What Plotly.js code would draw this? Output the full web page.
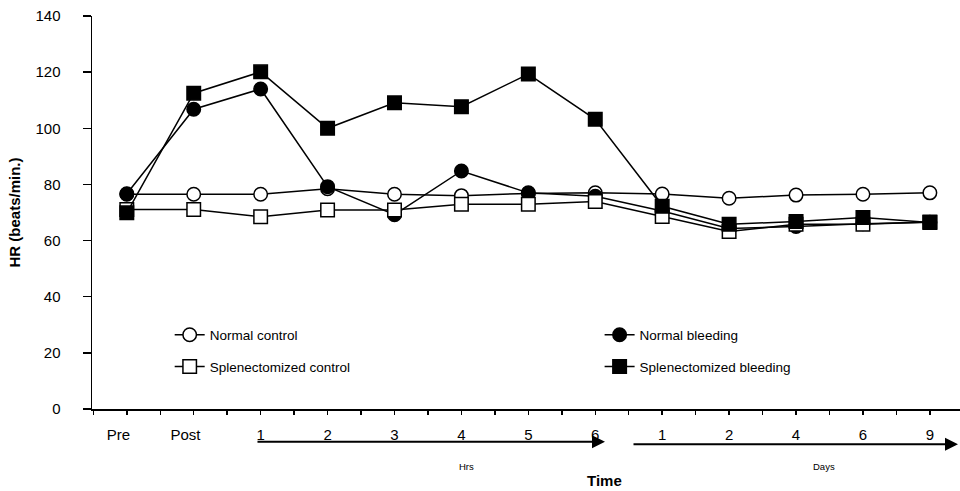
<!DOCTYPE html>
<html>
<head>
<meta charset="utf-8">
<script src="https://cdn.plot.ly/plotly-3.0.1.min.js"></script>
<style>html,body{margin:0;padding:0;background:#fff;}#chart{width:960px;height:491px;}</style>
</head>
<body>
<div id="chart"></div>
<script>
const categories = ['Pre', 'Post', '1', '2', '3', '4', '5', '6', '1', '2', '4', '6', '9'];
const tickLabels = ['Pre\u00a0\u00a0\u00a0\u00a0', 'Post\u00a0\u00a0\u00a0\u00a0', '1', '2', '3', '4', '5', '6', '1', '2', '4', '6', '9'];
const normalControl = [76.5, 76.5, 76.5, 78.5, 76.5, 76, 76.8, 77, 76.6, 75.1, 76.2, 76.5, 77];
const normalBleeding = [76.7, 106.8, 114, 79.2, 69.2, 84.8, 77, 75.8, 70.5, 64.3, 65, 66, 66.5];
const splenControl = [71.1, 71.1, 68.5, 70.9, 70.9, 72.9, 72.9, 73.9, 68.6, 63.2, 65.8, 65.8, 66.6];
const splenBleeding = [69.9, 112.5, 120.1, 100, 109.1, 107.7, 119.3, 103.2, 72.2, 65.8, 66.8, 68.2, 66.4];
const seriesNames = ['Normal control', 'Normal bleeding', 'Splenectomized control', 'Splenectomized bleeding'];

const xIdx = categories.map((c, i) => i);
const FONT = 'Arial, "Liberation Sans", sans-serif';

function mk(name, y, symbol, fill, legendId) {
  return {
    type: 'scatter', mode: 'lines+markers', name: name, x: xIdx, y: y,
    legend: legendId,
    line: {color: '#000', width: 1.5},
    marker: {symbol: symbol, size: 13.5, color: fill, line: {color: '#000', width: 1.5}},
    cliponaxis: false
  };
}

const traces = [
  mk(seriesNames[0], normalControl, 'circle', '#fff', 'legend'),
  mk(seriesNames[1], normalBleeding, 'circle', '#000', 'legend2'),
  mk(seriesNames[2], splenControl, 'square', '#fff', 'legend3'),
  mk(seriesNames[3], splenBleeding, 'square', '#000', 'legend4')
];

const legStyle = (x, y) => ({
  x: x, y: y, xanchor: 'left', yanchor: 'middle', bgcolor: 'rgba(0,0,0,0)',
  borderwidth: 0, font: {family: FONT, size: 13.5, color: '#000'}
});

const layout = {
  width: 960, height: 491,
  margin: {l: 92, r: 0, t: 16, b: 82},
  paper_bgcolor: '#fff', plot_bgcolor: '#fff',
  font: {family: FONT, color: '#000'},
  showlegend: true,
  legend: legStyle(0.0895, 0.1883),
  legend2: legStyle(0.5848, 0.1883),
  legend3: legStyle(0.0895, 0.1076),
  legend4: legStyle(0.5848, 0.1076),
  xaxis: {
    range: [-0.52, 12.45], showgrid: false, zeroline: false,
    showline: true, linecolor: '#000', linewidth: 1.5,
    tickmode: 'array', tickvals: xIdx, ticktext: tickLabels,
    ticks: 'outside', ticklen: 4, tickwidth: 1.5, tickcolor: '#000',
    minor: {dtick: 0.5, tick0: -0.5, ticks: 'outside', ticklen: 4, tickwidth: 1.5, tickcolor: '#000'},
    tickfont: {family: FONT, size: 15, color: '#000'},
    ticklabelstandoff: 7
  },
  yaxis: {
    range: [0, 140], showgrid: false, zeroline: false,
    showline: true, linecolor: '#000', linewidth: 1.5,
    tickmode: 'linear', tick0: 0, dtick: 20,
    ticks: 'outside', ticklen: 8, tickwidth: 1.5, tickcolor: '#000',
    tickfont: {family: FONT, size: 15, color: '#000'},
    ticklabelstandoff: 19,
    title: {text: '<b>HR (beats/min.)</b>', font: {family: FONT, size: 15, color: '#000'}, standoff: 11}
  },
  annotations: [
    {xref: 'paper', yref: 'paper', x: 0.591, y: -0.0832, ax: -349, ay: 0, axref: 'pixel', ayref: 'pixel',
     text: '', showarrow: true, arrowhead: 2, arrowsize: 1.3, arrowwidth: 2, arrowcolor: '#000'},
    {xref: 'paper', yref: 'paper', x: 0.9977, y: -0.0898, ax: -326, ay: 0, axref: 'pixel', ayref: 'pixel',
     text: '', showarrow: true, arrowhead: 2, arrowsize: 1.3, arrowwidth: 2, arrowcolor: '#000'},
    {xref: 'paper', yref: 'paper', x: 0.4317, y: -0.1468, text: 'Hrs', showarrow: false,
     xanchor: 'center', yanchor: 'middle', font: {family: FONT, size: 9.5, color: '#000'}},
    {xref: 'paper', yref: 'paper', x: 0.8433, y: -0.1468, text: 'Days', showarrow: false,
     xanchor: 'center', yanchor: 'middle', font: {family: FONT, size: 9.5, color: '#000'}},
    {xref: 'paper', yref: 'paper', x: 0.591, y: -0.183, text: '<b>Time</b>', showarrow: false,
     xanchor: 'center', yanchor: 'middle', font: {family: FONT, size: 15, color: '#000'}}
  ]
};

Plotly.newPlot('chart', traces, layout, {displayModeBar: false, staticPlot: true});
</script>
</body>
</html>
